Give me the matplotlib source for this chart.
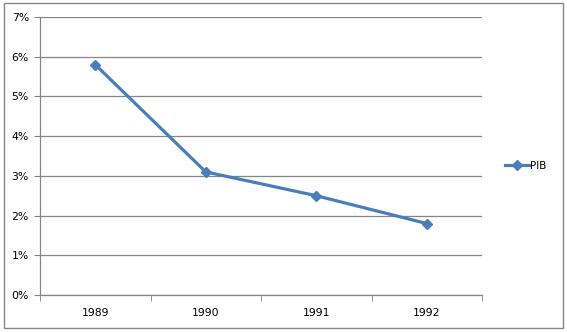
import matplotlib
matplotlib.use("Agg")
import matplotlib.pyplot as plt
from matplotlib.patches import Rectangle
from matplotlib.ticker import FuncFormatter, FixedLocator
import numpy as np

# data
years = ["1989", "1990", "1991", "1992"]
pib = [5.8, 3.1, 2.5, 1.8]

blue = "#4A7EBB"
grid_col = "#868686"

fig = plt.figure(figsize=(5.67, 3.32), dpi=100)
ax = fig.add_axes([40/567, 1-295/332, 442/567, 278/332])

x = np.arange(len(years))
ax.plot(x, pib, color=blue, lw=2.3, marker="D", ms=5, label="PIB")

ax.set_xlim(-0.5, len(years) - 0.5)
ax.set_ylim(0, 7)
ax.set_yticks(range(0, 8))
ax.yaxis.set_major_formatter(FuncFormatter(lambda v, p: "%d%%" % v))
ax.set_xticks(x)
ax.set_xticklabels(years)
ax.xaxis.set_minor_locator(FixedLocator(np.arange(-0.5, len(years), 1.0)))

ax.grid(axis="y", color=grid_col, lw=0.9)
ax.set_axisbelow(True)
for s in ["top", "right"]:
    ax.spines[s].set_visible(False)
for s in ["left", "bottom"]:
    ax.spines[s].set_color(grid_col)
    ax.spines[s].set_linewidth(0.9)

ax.tick_params(axis="x", which="major", length=0, pad=9, labelsize=7.8)
ax.tick_params(axis="x", which="minor", length=4, color=grid_col, direction="out")
ax.tick_params(axis="y", length=4, color=grid_col, pad=4, labelsize=7.8)

ax.legend(loc="center left", bbox_to_anchor=(1.03, 0.465), frameon=False,
          fontsize=7.5, handlelength=2.3, handletextpad=0.1)

fig.patches.append(Rectangle((4/567, 1-328/332), 559/567, 325/332,
                             transform=fig.transFigure, fill=False,
                             edgecolor=grid_col, lw=1))

fig.savefig("out.png", dpi=100)
